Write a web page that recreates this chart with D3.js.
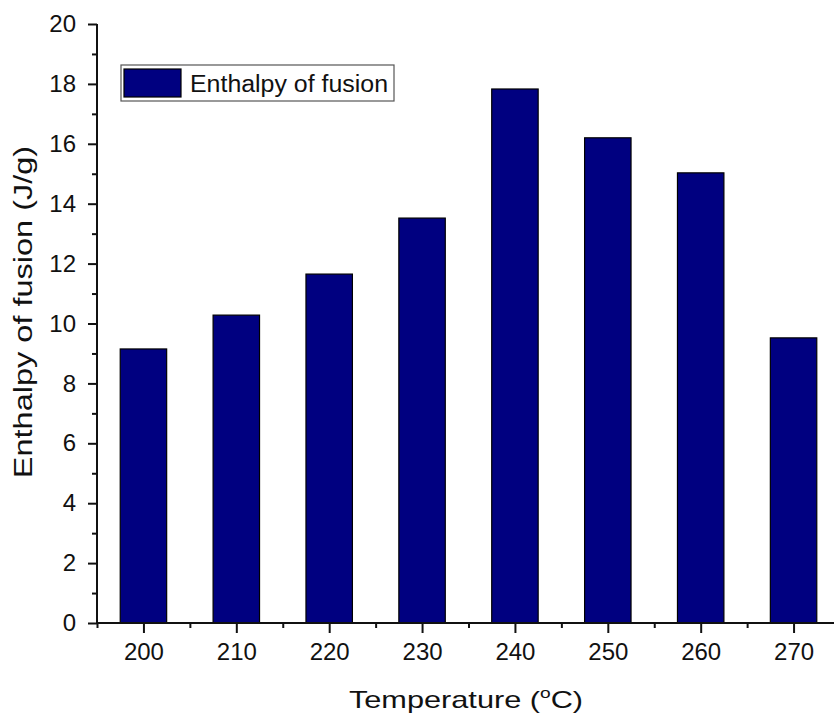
<!DOCTYPE html>
<html>
<head>
<meta charset="utf-8">
<script src="https://cdn.jsdelivr.net/npm/d3@7"></script>
<style>
body { margin: 0; background: #fff; }
text { font-family: "Liberation Sans", Arial, sans-serif; fill: #111; }
</style>
</head>
<body>
<svg id="chart" width="834" height="719"></svg>
<script>
const temps = [200, 210, 220, 230, 240, 250, 260, 270]
const enthalpy = [9.15, 10.28, 11.65, 13.52, 17.83, 16.2, 15.03, 9.52]
const yTicks = [0, 2, 4, 6, 8, 10, 12, 14, 16, 18, 20]
const seriesName = 'Enthalpy of fusion'

const margin = { left: 97, top: 24 }
const W = 743, H = 599
const svg = d3.select('#chart')
const g = svg.append('g').attr('transform', `translate(${margin.left},${margin.top})`)

const x = d3.scaleLinear().domain([195, 275]).range([0, W])
const y = d3.scaleLinear().domain([0, 20]).range([H, 0])
const barW = x(205) - x(200)

g.selectAll('.bar')
  .data(temps)
  .enter()
  .append('rect')
  .attr('class', 'bar')
  .attr('x', (d) => x(d) - barW / 2)
  .attr('y', (d, i) => y(enthalpy[i]))
  .attr('width', barW)
  .attr('height', (d, i) => H - y(enthalpy[i]))
  .attr('fill', '#000080')
  .attr('stroke', '#000')
  .attr('stroke-width', 1.2)

// x axis: major + minor
const xAxis = g.append('g').attr('transform', `translate(0,${H})`)
xAxis.call(d3.axisBottom(x).tickValues(temps).tickSize(10).tickPadding(10).tickFormat(d3.format('d')))
xAxis.append('g').call(d3.axisBottom(x).tickValues(d3.range(195, 275, 10)).tickSize(5).tickFormat(''))

const yAxis = g.append('g')
yAxis.call(d3.axisLeft(y).tickValues(yTicks).tickSize(9).tickPadding(12))
yAxis.append('g').call(d3.axisLeft(y).tickValues(d3.range(1, 20, 2)).tickSize(5).tickFormat(''))

svg.selectAll('.domain').attr('stroke', '#111').attr('stroke-width', 2)
svg.selectAll('.tick line').attr('stroke', '#111').attr('stroke-width', 2)
svg.selectAll('.tick text').attr('font-size', 24).attr('fill', '#111')
xAxis.select('.domain').attr('d', `M0,0H${W + 10}`)
yAxis.select('.domain').attr('d', `M0,${H}V0`)
xAxis.selectAll('g > g').select('.domain').remove()
yAxis.selectAll('g > g').select('.domain').remove()

// legend
const lg = svg.append('g').attr('transform', 'translate(121,65)')
lg.append('rect').attr('width', 273).attr('height', 36)
  .attr('fill', '#fff').attr('stroke', '#555').attr('stroke-width', 1.2)
lg.append('rect').attr('x', 3).attr('y', 4).attr('width', 57).attr('height', 28)
  .attr('fill', '#000080').attr('stroke', '#000').attr('stroke-width', 1.2)
lg.append('text').attr('x', 69).attr('y', 27).attr('font-size', 23)
  .attr('textLength', 198).attr('lengthAdjust', 'spacingAndGlyphs')
  .text(seriesName)

// axis titles (the originals are drawn a bit wide)
const xt = svg.append('text').attr('transform', 'translate(466,708) scale(1.28,1)')
  .attr('text-anchor', 'middle').attr('font-size', 24)
xt.append('tspan').text('Temperature (')
xt.append('tspan').attr('dy', -10).attr('font-size', 15).text('o')
xt.append('tspan').attr('dy', 10).text('C)')

svg.append('text')
  .attr('transform', 'translate(32,312) rotate(-90) scale(1.3,1)')
  .attr('text-anchor', 'middle').attr('font-size', 25)
  .text('Enthalpy of fusion (J/g)')
</script>
</body>
</html>
